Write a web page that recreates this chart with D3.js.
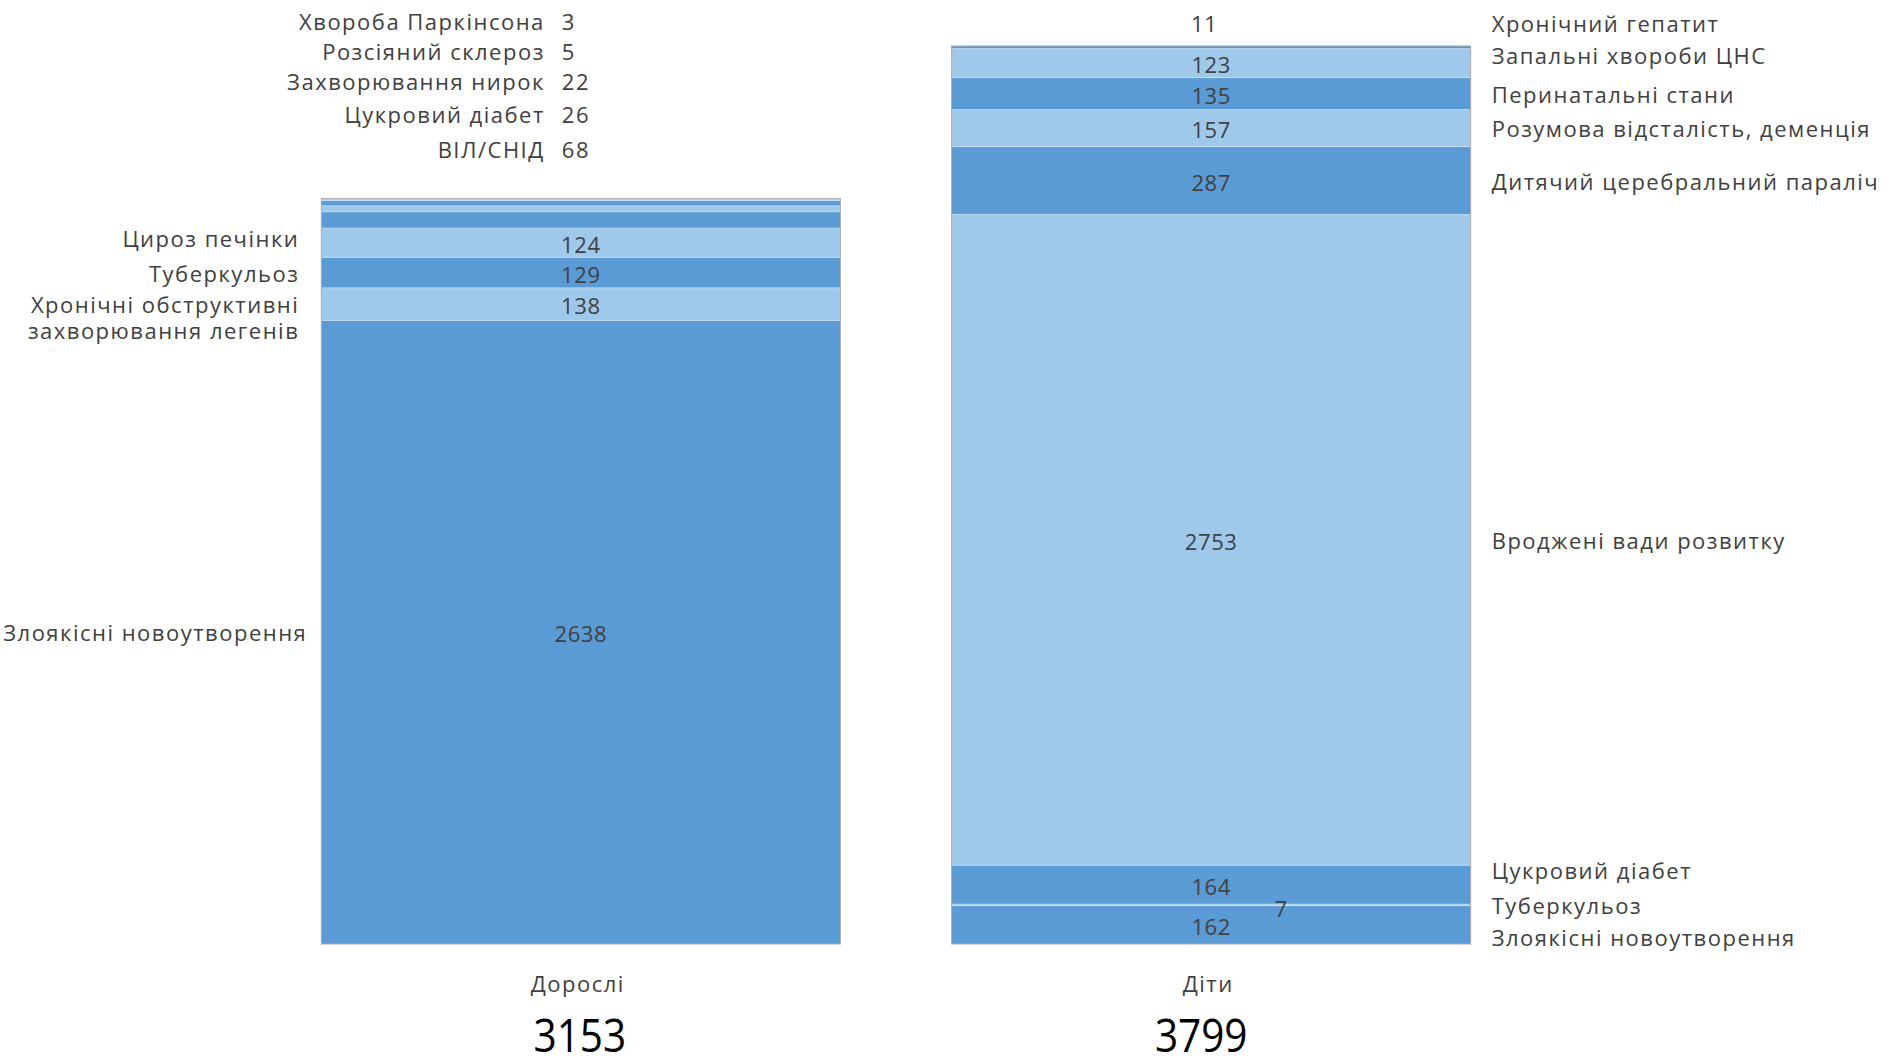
<!DOCTYPE html>
<html>
<head>
<meta charset="utf-8">
<script src="https://cdn.jsdelivr.net/npm/d3@7"></script>
<style>
  html, body { margin: 0; padding: 0; background: #ffffff; }
  svg { display: block; }
  text { font-family: "Open Sans", "Noto Sans", sans-serif; }
</style>
</head>
<body>
<svg id="chart" width="1901" height="1059"></svg>
<script>
// ---------------- DATA ----------------
const categories = ["Дорослі", "Діти"];

// stacked from bottom to top
const adultCauses = [
  "Злоякісні новоутворення",
  "Хронічні обструктивні\nзахворювання легенів",
  "Туберкульоз",
  "Цироз печінки",
  "ВІЛ/СНІД",
  "Цукровий діабет",
  "Захворювання нирок",
  "Розсіяний склероз",
  "Хвороба Паркінсона"
];
const adultValues = [2638, 138, 129, 124, 68, 26, 22, 5, 3];

const childCauses = [
  "Злоякісні новоутворення",
  "Туберкульоз",
  "Цукровий діабет",
  "Вроджені вади розвитку",
  "Дитячий церебральний параліч",
  "Розумова відсталість, деменція",
  "Перинатальні стани",
  "Запальні хвороби ЦНС",
  "Хронічний гепатит"
];
const childValues = [162, 7, 164, 2753, 287, 157, 135, 123, 11];

const totalLabels = ["3153", "3799"];

// ---------------- LAYOUT ----------------
const svg = d3.select("#chart");
const DARK = "#5B9BD5", LIGHT = "#9FC9EA";
const TEXT = "#404040";
const LABEL_SIZE = 22;

const x = d3.scaleBand().domain(categories)
  .range([265.6, 1526.4]).paddingInner(0.1767).paddingOuter(0.0884);
const y = d3.scaleLinear().domain([0, 3799]).range([944, 46]);

function stackOf(values) {
  let acc = 0;
  return values.map((v, i) => {
    const s = { i, v, y0: acc, y1: acc + v };
    acc += v;
    return s;
  });
}

const series = [
  { cat: categories[0], causes: adultCauses, values: adultValues },
  { cat: categories[1], causes: childCauses, values: childValues }
];

function txt(g, tx, ty, str, opts) {
  const t = g.append("text")
    .attr("x", tx).attr("y", ty)
    .attr("dominant-baseline", "central")
    .attr("text-anchor", opts.anchor || "middle")
    .attr("font-size", opts.size || LABEL_SIZE)
    .attr("fill", opts.fill || TEXT)
    .attr("letter-spacing", opts.ls != null ? opts.ls : 1.5);
  const lines = String(str).split("\n");
  if (lines.length === 1) {
    t.text(str);
  } else {
    lines.forEach((ln, li) => {
      t.append("tspan").attr("x", tx).attr("y", ty + li * 26).text(ln);
    });
  }
  return t;
}

// vertical slots for the list of small adult causes (top of chart)
const topListY = [21, 51, 81, 114, 149];

series.forEach((s, si) => {
  const g = svg.append("g");
  const st = stackOf(s.values);
  const bx = x(s.cat), bw = x.bandwidth();

  g.selectAll("rect.seg").data(st).enter().append("rect")
    .attr("class", "seg")
    .attr("x", bx).attr("width", bw)
    .attr("y", d => y(d.y1))
    .attr("height", d => y(d.y0) - y(d.y1))
    .attr("fill", d => d.i % 2 === 0 ? DARK : LIGHT);

  g.selectAll("line.sep").data(st.slice(1)).enter().append("line")
    .attr("x1", bx).attr("x2", bx + bw)
    .attr("y1", d => y(d.y0)).attr("y2", d => y(d.y0))
    .attr("stroke", "#ffffff").attr("stroke-opacity", 0.35).attr("stroke-width", 1);

  const total = d3.sum(s.values);
  g.append("rect")
    .attr("x", bx).attr("width", bw)
    .attr("y", y(total)).attr("height", y(0) - y(total))
    .attr("fill", "none").attr("stroke", "#a8a8a8").attr("stroke-width", 1);

  const cx = bx + bw / 2;

  txt(svg, cx - 3, 983, s.cat, { size: 22 });
  svg.append("text")
    .attr("transform", `translate(${cx + (si === 0 ? -1 : -10)},1035) scale(0.9,1)`)
    .attr("text-anchor", "middle").attr("dominant-baseline", "central")
    .attr("font-size", 45).attr("fill", "#000")
    .text(totalLabels[si]);

  if (si === 0) {
    const small = st.filter(d => d.v < 100).reverse();
    small.forEach((d, k) => {
      const ly = topListY[k];
      txt(g, cx - 36, ly, s.causes[d.i], { anchor: "end" });
      txt(g, cx - 19, ly, d.v, { anchor: "start" });
    });
    st.filter(d => d.v >= 100).forEach(d => {
      const my = (y(d.y0) + y(d.y1)) / 2;
      txt(g, bx - 22 + (d.i === 0 ? 8 : 0), my - (d.i === 3 ? 5 : 0), s.causes[d.i], { anchor: "end" });
      txt(g, cx, my + 1, d.v, { ls: 0.6 });
    });
  } else {
    const nudge = { 0: 12, 2: -15, 7: -8 };
    st.forEach(d => {
      const my = (y(d.y0) + y(d.y1)) / 2;
      let ly = my + (nudge[d.i] || 0);
      let vx = cx, vy = my + 1;
      if (d.i === 8) { ly = 23; vy = 23; vx = cx - 7; }
      if (d.i === 1) { vx = cx + 70; vy = my + 3; }
      txt(g, bx + bw + 21, ly, s.causes[d.i], { anchor: "start" });
      txt(g, vx, vy, d.v, { ls: 0.6 });
    });
  }
});
</script>
</body>
</html>
